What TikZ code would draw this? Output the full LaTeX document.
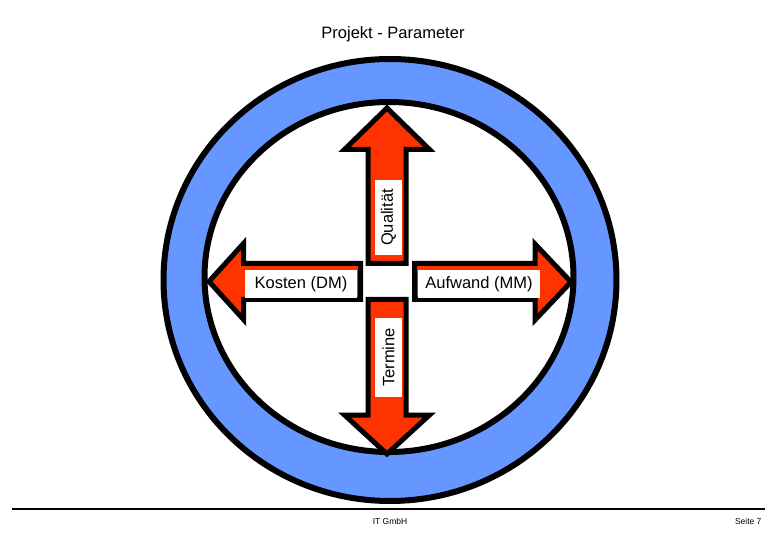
\documentclass[tikz,border=0pt]{standalone}
\usepackage{fontspec}
\setmainfont{Liberation Sans}
\definecolor{ringblau}{RGB}{102,150,255}
\definecolor{pfeilrot}{RGB}{255,51,0}

\begin{document}
\begin{tikzpicture}
  [x=1pt,y=-1pt,
   ring/.style={draw=black, line width=6pt, fill=ringblau, even odd rule},
   pfeil/.style={draw=black, line width=5pt, fill=pfeilrot, line join=miter},
   schild/.style={fill=white, inner sep=0pt, font=\fontsize{16.5}{18}\selectfont},
   fuss/.style={font=\fontsize{8.5}{10}\selectfont}]
  \useasboundingbox (0,0) rectangle (780,540);

  \node[font=\fontsize{16.5}{18}\selectfont] (titel) at (393,34) {Projekt - Parameter};

  % Ring
  \draw[ring] (390,280) ellipse [x radius=226.5, y radius=221]
              (389,277) ellipse [x radius=184.5, y radius=175];

  % Pfeile
  \draw[pfeil] (368,263.5) -- (368,149.5) -- (344.5,149.5) -- (387,108)
               -- (429.5,149.5) -- (406,149.5) -- (406,263.5) -- cycle;
  \draw[pfeil] (368,299.5) -- (368,415) -- (344.5,415) -- (387,454)
               -- (429.5,415) -- (406,415) -- (406,299.5) -- cycle;
  \draw[pfeil] (360.5,263.5) -- (243.5,263.5) -- (243.5,243.5) -- (209,281.5)
               -- (243.5,319.5) -- (243.5,299.5) -- (360.5,299.5) -- cycle;
  \draw[pfeil] (414.5,263.5) -- (535,263.5) -- (535,244) -- (571,282)
               -- (535,320) -- (535,299.5) -- (414.5,299.5) -- cycle;

  \node[schild, rotate=90, minimum width=75, minimum height=27] (qualitaet) at (388.5,217.5) {Qualität};
  \node[schild, rotate=90, minimum width=79, minimum height=27] (termine) at (388.5,357.5) {Termine};
  \node[schild, minimum width=112, minimum height=28] (kosten) at (301,284) {Kosten (DM)};
  \node[schild, minimum width=122, minimum height=28] (aufwand) at (479,284) {Aufwand (MM)};

  % Fusszeile
  \draw[line width=2pt] (12,509) -- (765,509);
  \node[fuss] (firma) at (390,521) {IT GmbH};
  \node[fuss, anchor=east] (seite) at (765,521) {Seite 7};

\end{tikzpicture}
\end{document}
